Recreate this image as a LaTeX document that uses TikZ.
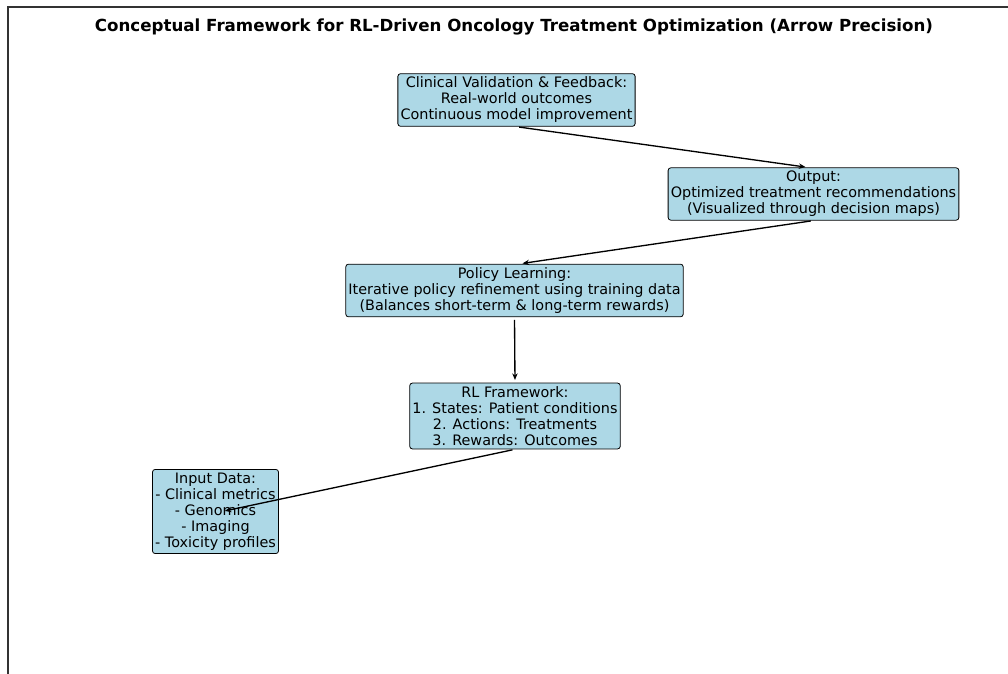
\documentclass[tikz,border=0pt]{standalone}
\usepackage{fontspec}
\setmainfont{DejaVu Sans}
\usetikzlibrary{arrows.meta}
\definecolor{lightblue}{HTML}{ADD8E6}

\begin{document}
\begin{tikzpicture}[x=0.75pt,y=-0.75pt,
  stage/.style={draw=black,line width=0.6pt,fill=lightblue,rounded corners=2pt,align=center,
    inner xsep=2pt,inner ysep=2.5pt,font=\fontsize{10.8}{12}\selectfont},
  flow/.style={-{Stealth[length=5pt,width=4pt]},line width=1pt,shorten >=2pt,shorten <=2pt}]
  \useasboundingbox (0,0) rectangle (1008,674);

  %% frame
  \draw[line width=0.8pt,black!80] (8,674) -- (8,7) -- (1008,7);

  %% title
  \node[font=\bfseries\fontsize{12.5}{15}\selectfont] (title) at (514,27)
    {Conceptual Framework for RL-Driven Oncology Treatment Optimization (Arrow Precision)};

  %% stages
  \node[stage] (clin) at (516.5,100) {Clinical Validation \& Feedback:\\Real-world outcomes\\Continuous model improvement};
  \node[stage] (out) at (813.5,194) {Output:\\Optimized treatment recommendations\\(Visualized through decision maps)};
  \node[stage] (pol) at (514.5,290.5) {Policy Learning:\\Iterative policy refinement using training data\\(Balances short-term \& long-term rewards)};
  \node[stage] (rl) at (515,416) {RL Framework:\\1. States: Patient conditions\\2. Actions: Treatments\\3. Rewards: Outcomes};
  \node[stage] (inp) at (215.5,511.5) {Input Data:\\- Clinical metrics\\- Genomics\\- Imaging\\- Toxicity profiles};

  %% arrows
  \draw[flow] (clin.south) -- ([xshift=-4pt]out.north);
  \draw[flow] (out.south) -- ([xshift=4pt]pol.north);
  \draw[flow] (pol.south) -- (rl.north);
  \draw[flow] (rl.south) -- ([xshift=5pt]inp.center);
\end{tikzpicture}
\end{document}
